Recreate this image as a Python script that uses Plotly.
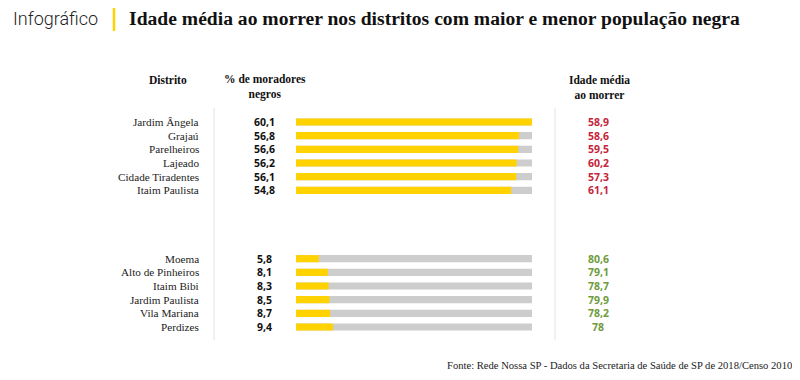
import plotly.graph_objects as go

districts_high = ["Jardim Ângela", "Grajaú", "Parelheiros", "Lajeado", "Cidade Tiradentes", "Itaim Paulista"]
pct_high = [60.1, 56.8, 56.6, 56.2, 56.1, 54.8]
pct_high_labels = ["60,1", "56,8", "56,6", "56,2", "56,1", "54,8"]
age_high_labels = ["58,9", "58,6", "59,5", "60,2", "57,3", "61,1"]

districts_low = ["Moema", "Alto de Pinheiros", "Itaim Bibi", "Jardim Paulista", "Vila Mariana", "Perdizes"]
pct_low = [5.8, 8.1, 8.3, 8.5, 8.7, 9.4]
pct_low_labels = ["5,8", "8,1", "8,3", "8,5", "8,7", "9,4"]
age_low_labels = ["80,6", "79,1", "78,7", "79,9", "78,2", "78"]

# the page body has an 8px margin; the figure is sized to fill the rest of the window
OFF = 8
W, H = 800 - OFF, 380 - OFF
YELLOW = "#FFD200"
GREY = "#CDCDCD"
RED = "#C4243A"
GREEN = "#6E9B3C"
SERIF = "Liberation Serif, DejaVu Serif, serif"
SANS = "Noto Sans, Open Sans, sans-serif"

gap = 4
y_high = list(range(len(districts_high)))
y_low = [len(districts_high) + gap + i for i in range(len(districts_low))]
all_y = y_high + y_low
all_pct = pct_high + pct_low
max_pct = max(all_pct)

def px(x):
    return (x - OFF) / W
def py(y):
    return 1 - (y - OFF) / H

fig = go.Figure()
fig.add_trace(go.Bar(x=[max_pct] * len(all_y), y=all_y, orientation="h",
                     marker=dict(color=GREY, line_width=0), width=0.52,
                     hoverinfo="skip", showlegend=False))
fig.add_trace(go.Bar(x=all_pct, y=all_y, orientation="h",
                     marker=dict(color=YELLOW, line_width=0), width=0.52,
                     showlegend=False))

row0_px, rowN_px = 122 - OFF, 327 - OFF
n_last = all_y[-1]
px_per_row = (rowN_px - row0_px) / n_last
y_top = -row0_px / px_per_row
y_bot = (H - row0_px) / px_per_row

ann = []
names = districts_high + districts_low
pl = pct_high_labels + pct_low_labels
ages = age_high_labels + age_low_labels
agecol = [RED] * len(age_high_labels) + [GREEN] * len(age_low_labels)
for yy, nm, p, a, c in zip(all_y, names, pl, ages, agecol):
    ann.append(dict(x=px(201), y=yy, xref="paper", yref="y", text=nm, showarrow=False,
                    xanchor="right", yanchor="middle", font=dict(family=SERIF, size=11.2, color="#222")))
    ann.append(dict(x=px(264), y=yy, xref="paper", yref="y", text="<b>%s</b>" % p, showarrow=False,
                    xanchor="center", yanchor="middle", font=dict(family=SANS, size=10.5, color="#111")))
    ann.append(dict(x=px(598), y=yy, xref="paper", yref="y", text="<b>%s</b>" % a, showarrow=False,
                    xanchor="center", yanchor="middle", font=dict(family=SANS, size=10.5, color=c)))

hdr = dict(family=SERIF, size=11.5, color="#111")
ann.append(dict(x=px(168), y=py(80), xref="paper", yref="paper", text="<b>Distrito</b>", showarrow=False,
                xanchor="center", yanchor="middle", font=hdr))
ann.append(dict(x=px(265), y=py(87), xref="paper", yref="paper", text="<b>% de moradores<br>negros</b>",
                showarrow=False, xanchor="center", yanchor="middle", font=hdr, align="center"))
ann.append(dict(x=px(599), y=py(87), xref="paper", yref="paper", text="<b>Idade média<br>ao morrer</b>",
                showarrow=False, xanchor="center", yanchor="middle", font=hdr, align="center"))

ann.append(dict(x=px(11), y=py(19), xref="paper", yref="paper", text="Infográfico", showarrow=False,
                xanchor="left", yanchor="middle",
                font=dict(family="Roboto, sans-serif", size=18, color="#222", weight=300)))
ann.append(dict(x=px(127), y=py(19), xref="paper", yref="paper",
                text="<b>Idade média ao morrer nos distritos com maior e menor população negra</b>",
                showarrow=False, xanchor="left", yanchor="middle",
                font=dict(family=SERIF, size=19.6, color="#111")))
ann.append(dict(x=px(445), y=py(365), xref="paper", yref="paper",
                text="Fonte: Rede Nossa SP - Dados da Secretaria de Saúde de SP de 2018/Censo 2010",
                showarrow=False, xanchor="left", yanchor="middle",
                font=dict(family=SERIF, size=10.6, color="#222")))

shapes = [
    dict(type="line", xref="paper", yref="paper", x0=px(114), x1=px(114), y0=py(8), y1=py(31),
         line=dict(color=YELLOW, width=2.5)),
    dict(type="line", xref="paper", yref="paper", x0=px(214), x1=px(214), y0=py(108), y1=py(340),
         line=dict(color="#E2E2E2", width=1)),
    dict(type="line", xref="paper", yref="paper", x0=px(555), x1=px(555), y0=py(108), y1=py(340),
         line=dict(color="#E2E2E2", width=1)),
]

fig.update_layout(
    width=W, height=H, margin=dict(l=0, r=0, t=0, b=0),
    paper_bgcolor="white", plot_bgcolor="white", barmode="overlay",
    xaxis=dict(domain=[px(296), px(532)], range=[0, max_pct], visible=False, fixedrange=True),
    yaxis=dict(domain=[0, 1], range=[y_bot, y_top], visible=False, fixedrange=True),
    annotations=ann, shapes=shapes,
)
fig.write_html("out.html")
